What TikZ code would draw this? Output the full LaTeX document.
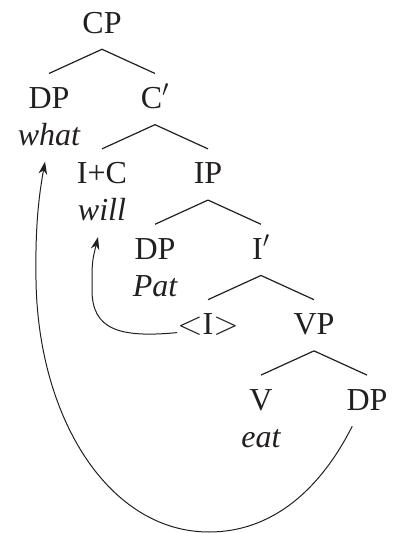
\documentclass[tikz,border=0pt]{standalone}
\usepackage{fontspec}
\setmainfont{Liberation Serif}
\usetikzlibrary{arrows.meta}
\definecolor{ink}{HTML}{231F20}
\tikzset{
  catnode/.style={font=\fontsize{24}{28}\selectfont,text=ink,inner sep=0pt,
                  text height=26pt,text depth=12pt,anchor=base},
  wordnode/.style={font=\fontsize{24}{28}\selectfont\itshape,text=ink,
                   inner sep=0pt,text height=18pt,text depth=12pt,anchor=base},
  branch/.style={line width=0.9pt,draw=ink},
  movearr/.style={-{Stealth[length=9.5pt,width=6.5pt]},line width=0.75pt,
                  draw=ink}
}
\begin{document}
\begin{tikzpicture}[x=0.75pt,y=-0.75pt]
    \path[use as bounding box] (0,0) rectangle (393,533);
    % categories, one row per level
    \node[catnode] (cp)   at (102,33)    {CP};
    \node[catnode] (dpa)  at (49,108.4)  {DP};
    \node[catnode] (cbar) at (155,108.4) {C$'$};
    \node[catnode] (ic)   at (102,183.8) {I+C};
    \node[catnode] (ip)   at (208,183.8) {IP};
    \node[catnode] (dpb)  at (155,259.2) {DP};
    \node[catnode] (ibar) at (261,259.2) {I$'$};
    \node[catnode] (itr)  at (208,334.6) {$\mathord{<}$I$\mathord{>}$};
    \node[catnode] (vp)   at (314,334.6) {VP};
    \node[catnode] (v)    at (261,410)   {V};
    \node[catnode] (dpc)  at (367,410)   {DP};
    % words
    \node[wordnode] (what) at (49,145.4)  {what};
    \node[wordnode] (will) at (102,220.8) {will};
    \node[wordnode] (pat)  at (155,296.2) {Pat};
    \node[wordnode] (eat)  at (261,447)   {eat};

    \foreach \p/\c in {cp/dpa,cp/cbar,cbar/ic,cbar/ip,ip/dpb,ip/ibar,
                       ibar/itr,ibar/vp,vp/v,vp/dpc}{
      \draw[branch] (\p.south) -- (\c.north);
    }

    % head movement and wh-movement
    \draw[movearr] ([yshift=1.5pt]itr.base west)
      .. controls (120,338) and (92,330) .. (92,290)
      .. controls (92,262) .. ([xshift=-3pt]will.south);
    \draw[movearr] (dpc.240)
      .. controls (320,490) and (272,532) .. (209,532)
      .. controls (110,532) and (38,420) .. (36,280)
      .. controls (35,220) and (40,190) .. ([xshift=-3pt]what.south);
  \end{tikzpicture}
\end{document}
